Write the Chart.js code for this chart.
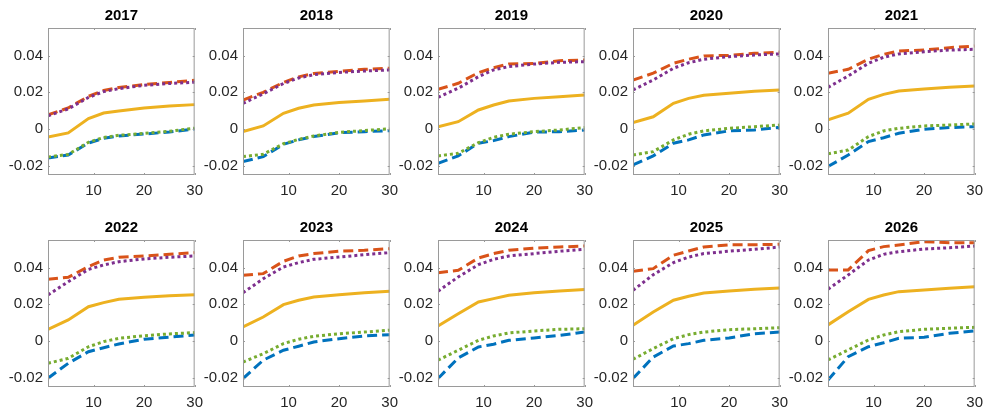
<!DOCTYPE html>
<html>
<head>
<meta charset="utf-8">
<script src="https://cdn.jsdelivr.net/npm/chart.js@4.4.1/dist/chart.umd.min.js"></script>
<style>
  html, body { margin: 0; padding: 0; background: #fff; overflow: hidden; }
  #grid { position: relative; width: 987px; height: 412px; }
  #grid canvas { position: absolute; }
</style>
</head>
<body>
<div id="grid"></div>
<script>
// panel titles and horizon grid
const years = [2017, 2018, 2019, 2020, 2021, 2022, 2023, 2024, 2025, 2026];
const maturities = [1, 5, 9, 12, 15, 20, 25, 30];
const xTicks = [10, 20, 30];
const yTicks = [-0.02, 0, 0.02, 0.04];

// one row per year, one value per maturity
const blueDashed = [
  [-0.0157, -0.0141, -0.0076, -0.0050, -0.0038, -0.0027, -0.0016, 0.0000],
  [-0.0177, -0.0150, -0.0083, -0.0059, -0.0041, -0.0020, -0.0014, -0.0009],
  [-0.0186, -0.0146, -0.0077, -0.0063, -0.0041, -0.0017, -0.0014, -0.0005],
  [-0.0195, -0.0146, -0.0077, -0.0059, -0.0032, -0.0010, -0.0005, 0.0010],
  [-0.0204, -0.0141, -0.0068, -0.0047, -0.0023, -0.0001, 0.0008, 0.0013],
  [-0.0202, -0.0121, -0.0058, -0.0036, -0.0016, 0.0010, 0.0021, 0.0033],
  [-0.0204, -0.0104, -0.0050, -0.0028, -0.0005, 0.0013, 0.0028, 0.0035],
  [-0.0204, -0.0092, -0.0032, -0.0017, 0.0004, 0.0017, 0.0031, 0.0049],
  [-0.0204, -0.0087, -0.0027, -0.0014, 0.0004, 0.0017, 0.0040, 0.0049],
  [-0.0212, -0.0085, -0.0031, -0.0009, 0.0015, 0.0021, 0.0042, 0.0055]
];
const redDashed = [
  [0.0077, 0.0115, 0.0178, 0.0210, 0.0226, 0.0242, 0.0254, 0.0265],
  [0.0158, 0.0200, 0.0254, 0.0284, 0.0302, 0.0314, 0.0325, 0.0331],
  [0.0216, 0.0249, 0.0307, 0.0334, 0.0354, 0.0357, 0.0372, 0.0376],
  [0.0267, 0.0304, 0.0358, 0.0380, 0.0398, 0.0401, 0.0412, 0.0419],
  [0.0304, 0.0325, 0.0380, 0.0407, 0.0425, 0.0430, 0.0443, 0.0452],
  [0.0336, 0.0347, 0.0405, 0.0441, 0.0456, 0.0463, 0.0472, 0.0481],
  [0.0358, 0.0367, 0.0434, 0.0463, 0.0476, 0.0489, 0.0494, 0.0503],
  [0.0372, 0.0385, 0.0452, 0.0476, 0.0494, 0.0506, 0.0512, 0.0517],
  [0.0380, 0.0394, 0.0467, 0.0490, 0.0512, 0.0524, 0.0524, 0.0527],
  [0.0387, 0.0387, 0.0492, 0.0514, 0.0523, 0.0541, 0.0535, 0.0535]
];
const yellowSolid = [
  [-0.0043, -0.0021, 0.0057, 0.0087, 0.0098, 0.0115, 0.0126, 0.0133],
  [-0.0014, 0.0017, 0.0086, 0.0113, 0.0131, 0.0144, 0.0153, 0.0162],
  [0.0013, 0.0040, 0.0104, 0.0131, 0.0153, 0.0167, 0.0176, 0.0185],
  [0.0035, 0.0067, 0.0140, 0.0167, 0.0184, 0.0195, 0.0206, 0.0213],
  [0.0050, 0.0086, 0.0162, 0.0189, 0.0207, 0.0218, 0.0227, 0.0234],
  [0.0064, 0.0115, 0.0187, 0.0209, 0.0227, 0.0238, 0.0247, 0.0252],
  [0.0077, 0.0131, 0.0198, 0.0222, 0.0240, 0.0252, 0.0263, 0.0271],
  [0.0082, 0.0149, 0.0213, 0.0231, 0.0249, 0.0263, 0.0273, 0.0280],
  [0.0086, 0.0158, 0.0222, 0.0244, 0.0262, 0.0273, 0.0282, 0.0289],
  [0.0088, 0.0160, 0.0227, 0.0251, 0.0269, 0.0278, 0.0287, 0.0296]
];
const purpleDotted = [
  [0.0072, 0.0110, 0.0172, 0.0204, 0.0220, 0.0238, 0.0248, 0.0255],
  [0.0140, 0.0192, 0.0248, 0.0278, 0.0296, 0.0308, 0.0316, 0.0322],
  [0.0173, 0.0222, 0.0285, 0.0322, 0.0340, 0.0354, 0.0363, 0.0367],
  [0.0213, 0.0267, 0.0331, 0.0361, 0.0380, 0.0394, 0.0403, 0.0409],
  [0.0227, 0.0289, 0.0358, 0.0391, 0.0409, 0.0421, 0.0430, 0.0434],
  [0.0251, 0.0323, 0.0390, 0.0414, 0.0432, 0.0447, 0.0456, 0.0463],
  [0.0263, 0.0339, 0.0403, 0.0427, 0.0445, 0.0457, 0.0470, 0.0481],
  [0.0271, 0.0349, 0.0416, 0.0445, 0.0463, 0.0476, 0.0489, 0.0499],
  [0.0276, 0.0361, 0.0427, 0.0457, 0.0476, 0.0489, 0.0499, 0.0512],
  [0.0282, 0.0360, 0.0441, 0.0472, 0.0486, 0.0501, 0.0508, 0.0517]
];
const greenDotted = [
  [-0.0152, -0.0138, -0.0072, -0.0046, -0.0034, -0.0024, -0.0012, 0.0005],
  [-0.0150, -0.0137, -0.0080, -0.0056, -0.0038, -0.0018, -0.0008, 0.0001],
  [-0.0146, -0.0132, -0.0074, -0.0045, -0.0028, -0.0014, -0.0005, 0.0008],
  [-0.0141, -0.0123, -0.0059, -0.0028, -0.0010, 0.0004, 0.0013, 0.0022],
  [-0.0135, -0.0114, -0.0041, -0.0010, 0.0004, 0.0017, 0.0022, 0.0028],
  [-0.0121, -0.0094, -0.0031, -0.0003, 0.0015, 0.0029, 0.0039, 0.0046],
  [-0.0114, -0.0069, -0.0014, 0.0010, 0.0026, 0.0040, 0.0049, 0.0059],
  [-0.0104, -0.0050, 0.0004, 0.0028, 0.0044, 0.0055, 0.0064, 0.0067],
  [-0.0099, -0.0041, 0.0013, 0.0035, 0.0049, 0.0062, 0.0067, 0.0073],
  [-0.0103, -0.0048, 0.0006, 0.0033, 0.0051, 0.0064, 0.0070, 0.0075]
];

const FONT = "'Liberation Sans', Arial, Helvetica, sans-serif";
const grid = document.getElementById('grid');

// box around the axes, inward tick marks, bold year on top
const framePlugin = {
  id: 'frame',
  afterDatasetsDraw(chart) {
    const { ctx, chartArea: a, scales } = chart;
    ctx.save();
    ctx.strokeStyle = '#9a9a9a';
    ctx.lineWidth = 1;
    ctx.strokeRect(a.left + 0.5, a.top + 0.5, a.right - a.left - 1, a.bottom - a.top - 1);
    ctx.beginPath();
    xTicks.forEach(t => {
      const x = Math.round(scales.x.getPixelForValue(t)) + 0.5;
      ctx.moveTo(x, a.bottom); ctx.lineTo(x, a.bottom - 2);
      ctx.moveTo(x, a.top); ctx.lineTo(x, a.top + 2);
    });
    yTicks.forEach(t => {
      const y = Math.round(scales.y.getPixelForValue(t)) + 0.5;
      ctx.moveTo(a.left, y); ctx.lineTo(a.left + 2, y);
      ctx.moveTo(a.right, y); ctx.lineTo(a.right - 2, y);
    });
    ctx.stroke();
    ctx.restore();
  },
  afterDraw(chart) {
    const { ctx, chartArea: a } = chart;
    ctx.save();
    ctx.fillStyle = '#000';
    ctx.font = 'bold 15px ' + FONT;
    ctx.textAlign = 'center';
    ctx.textBaseline = 'middle';
    ctx.fillText(chart.options.plugins.frame.title, (a.left + a.right) / 2, 16);
    ctx.restore();
  }
};

function makeSeries(vals, color, dash, order) {
  return {
    data: maturities.map((m, i) => ({ x: m, y: vals[i] })),
    borderColor: color,
    borderWidth: 3,
    borderDash: dash,
    pointRadius: 0,
    tension: 0,
    fill: false,
    order: order
  };
}

years.forEach((yr, k) => {
  const col = k % 5, row = Math.floor(k / 5);
  const cv = document.createElement('canvas');
  cv.width = 210; cv.height = 212;
  cv.style.left = (col * 195) + 'px';
  cv.style.top = (row * 212) + 'px';
  grid.appendChild(cv);

  new Chart(cv, {
    type: 'line',
    data: {
      datasets: [
        makeSeries(blueDashed[k], '#0072BD', [10, 5], 5),
        makeSeries(redDashed[k], '#D95319', [10, 5], 4),
        makeSeries(yellowSolid[k], '#EDB120', [], 3),
        makeSeries(purpleDotted[k], '#7E2F8E', [3, 3], 2),
        makeSeries(greenDotted[k], '#77AC30', [3, 3], 1)
      ]
    },
    options: {
      responsive: false,
      animation: false,
      layout: { padding: { top: 28, right: 15, bottom: 0, left: 0 }, autoPadding: false },
      plugins: {
        legend: { display: false },
        tooltip: { enabled: false },
        frame: { title: String(yr) }
      },
      scales: {
        x: {
          type: 'linear',
          min: 1, max: 30,
          grid: { display: false, drawTicks: false },
          border: { display: false },
          afterBuildTicks: s => { s.ticks = xTicks.map(v => ({ value: v })); },
          afterFit: s => { s.height = 37; },
          ticks: { color: '#262626', font: { family: FONT, size: 15 }, padding: 7, maxRotation: 0 }
        },
        y: {
          min: -0.025, max: 0.055,
          grid: { display: false, drawTicks: false },
          border: { display: false },
          afterBuildTicks: s => { s.ticks = yTicks.map(v => ({ value: v })); },
          afterFit: s => { s.width = 48; },
          ticks: {
            color: '#262626', font: { family: FONT, size: 15 }, padding: 5,
            callback: v => (Math.abs(v) < 1e-9 ? '0' : v.toFixed(2))
          }
        }
      }
    },
    plugins: [framePlugin]
  });
});
</script>
</body>
</html>
